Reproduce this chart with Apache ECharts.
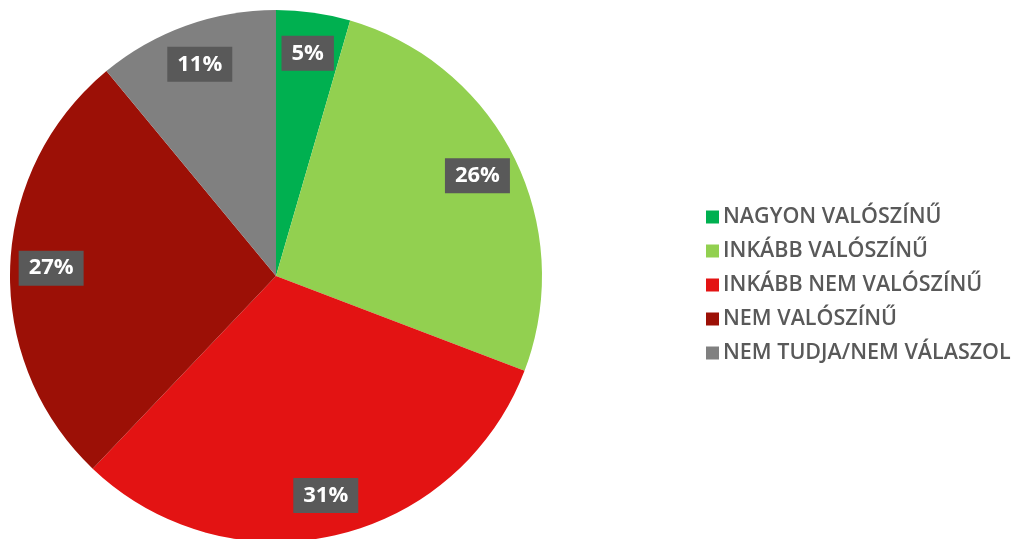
<!DOCTYPE html>
<html>
<head>
<meta charset="utf-8">
<script src="https://cdn.jsdelivr.net/npm/echarts@6/dist/echarts.min.js"></script>
<style>
  html, body { margin: 0; padding: 0; background: #fff; }
  #chart { width: 1033px; height: 539px; }
</style>
</head>
<body>
<div id="chart"></div>
<script>
// answer categories and shares (%), labels are shown rounded
const categories = ['NAGYON VALÓSZÍNŰ', 'INKÁBB VALÓSZÍNŰ', 'INKÁBB NEM VALÓSZÍNŰ', 'NEM VALÓSZÍNŰ', 'NEM TUDJA/NEM VÁLASZOL'];
const values = [4.5, 26.3, 31.3, 26.9, 11.0];
const colors = ['#00B050', '#92D050', '#E31313', '#9C1006', '#808080'];

const myChart = echarts.init(document.getElementById('chart'));

const pieData = categories.map((name, i) => ({ value: values[i], name: name }));

const option = {
  animation: false,
  color: colors,
  legend: {
    orient: 'vertical',
    left: 701,
    top: 201,
    icon: 'rect',
    itemWidth: 13,
    itemHeight: 13,
    itemGap: 12,
    data: categories,
    textStyle: {
      fontFamily: 'Open Sans',
      fontWeight: 600,
      fontSize: 21.5,
      lineHeight: 22,
      color: '#595959',
      padding: [0, 0, 0, -1]
    }
  },
  series: [
    {
      // the visible pie
      type: 'pie',
      center: [276, 276],
      radius: [0, 266],
      startAngle: 90,
      clockwise: true,
      silent: true,
      label: { show: false },
      labelLine: { show: false },
      itemStyle: { borderWidth: 0 },
      data: pieData
    },
    {
      // transparent ring used only to place the labels further out
      type: 'pie',
      center: [276, 276],
      radius: [178, 266],
      startAngle: 90,
      clockwise: true,
      silent: true,
      legendHoverLink: false,
      itemStyle: { color: 'rgba(0,0,0,0)', borderWidth: 0 },
      label: {
        show: true,
        position: 'inside',
        formatter: p => Math.round(p.value) + '%',
        backgroundColor: '#595959',
        color: '#fff',
        fontFamily: 'Open Sans',
        fontWeight: 'bold',
        fontSize: 22,
        lineHeight: 24,
        padding: [6, 10, 5, 10]
      },
      labelLine: { show: false },
      data: pieData
    }
  ]
};

myChart.setOption(option);
</script>
</body>
</html>
